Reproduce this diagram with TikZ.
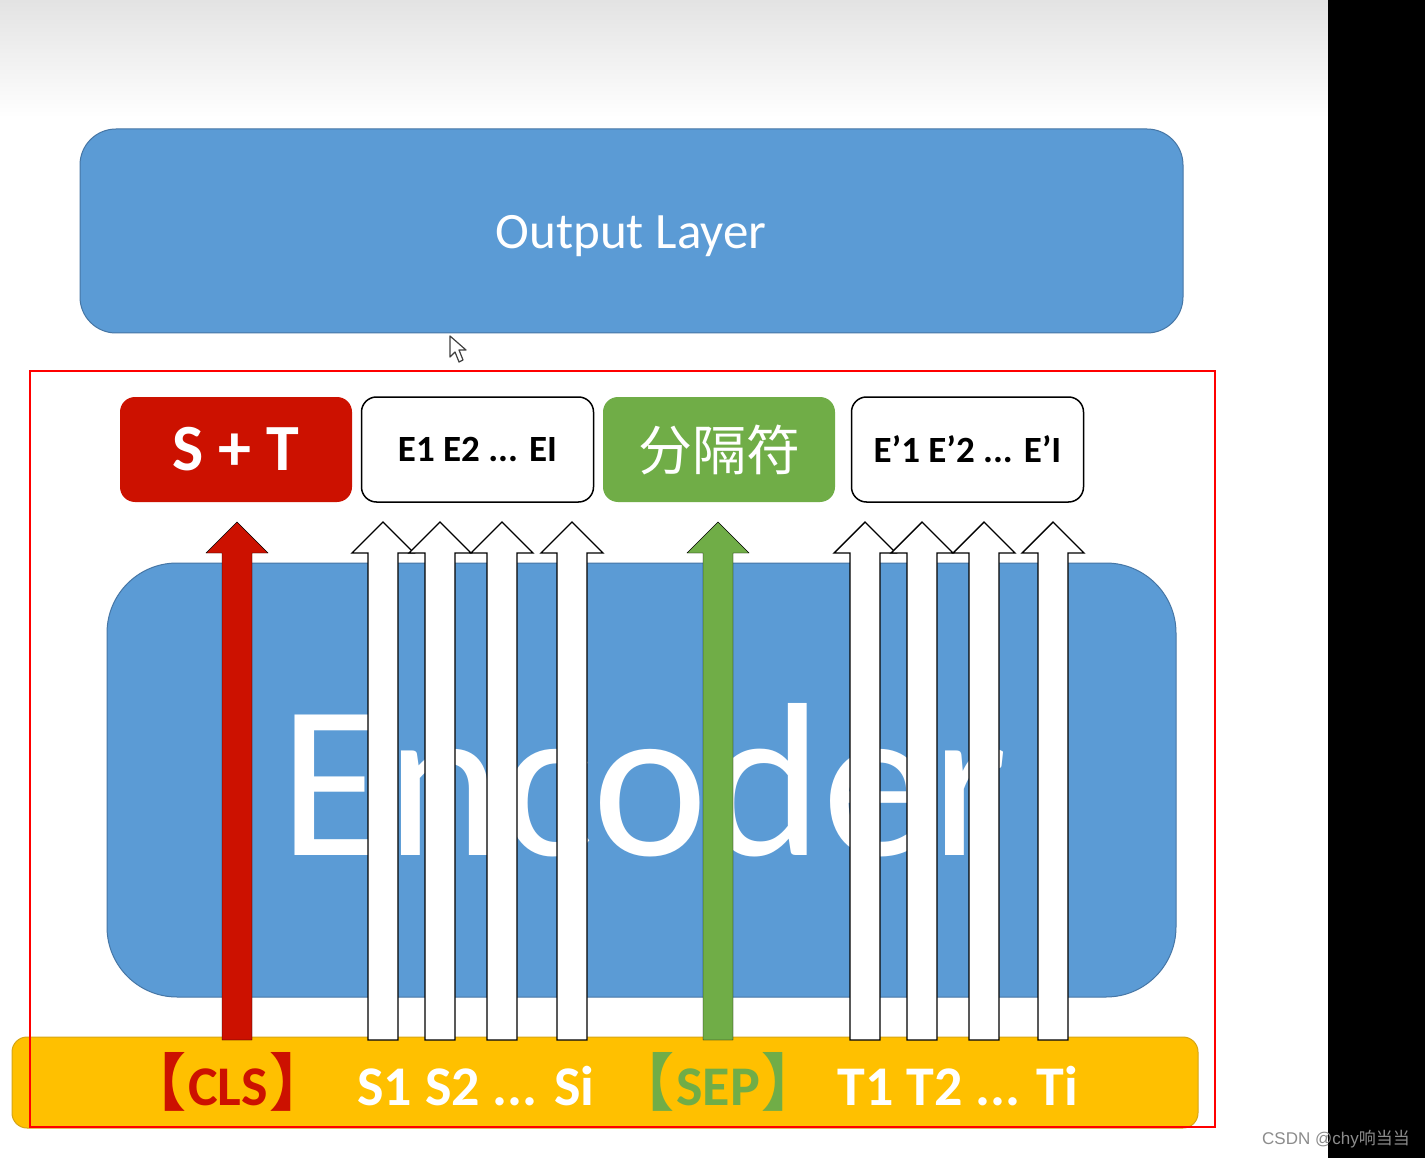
\documentclass[tikz,border=0pt]{standalone}
\usepackage{fontspec}
\setmainfont{Carlito}
\newfontfamily\cjk{Noto Sans CJK SC}
\newfontfamily\wmfont{Liberation Sans}
\usetikzlibrary{calc}
\definecolor{blu}{RGB}{91,155,213}
\definecolor{bluedge}{RGB}{70,118,165}
\definecolor{redf}{RGB}{204,17,0}
\definecolor{grn}{RGB}{112,173,71}
\definecolor{yel}{RGB}{255,192,0}
\definecolor{yeledge}{RGB}{214,165,20}
\definecolor{frame}{RGB}{255,0,0}
\newcommand\fsz[1]{\fontsize{#1pt}{#1pt}\selectfont}
\newcommand\blockarr[3]{\draw[#3] ($(#1)+(-15,0)$) -- ($(#2)+(-15,31)$) -- ($(#2)+(-31,31)$) -- (#2) -- ($(#2)+(31,31)$) -- ($(#2)+(15,31)$) -- ($(#1)+(15,0)$) -- cycle;}
\newcommand\lbr{{\cjk\fsz{62}【}}
\newcommand\rbr{{\cjk\fsz{62}】}}
\tikzset{
  layerbox/.style={draw=bluedge, line width=1pt, fill=blu, inner sep=0pt},
  tokbox/.style={minimum width=232pt, minimum height=105pt, rounded corners=15pt, inner sep=0pt},
  whitebox/.style={tokbox, draw=black, line width=1.5pt, fill=white, font=\bfseries\fsz{37}},
  whitearrow/.style={fill=white, draw=black, line width=1.4pt, line join=miter},
  redarrow/.style={fill=redf},
  greenarrow/.style={fill=grn},
  bartext/.style={font=\bfseries\fsz{56}, anchor=base, inner sep=0pt}
}
\begin{document}
\begin{tikzpicture}[x=1pt,y=-1pt]
\useasboundingbox (0,0) rectangle (1425,1158);
\fill[white] (0,0) rectangle (1425,1158);
\shade[top color=black!11, bottom color=white] (0,0) rectangle (1328,118);
\fill[black] (1328,0) rectangle (1425,1158);

% output layer
\node[layerbox, rounded corners=36pt, minimum width=1103pt, minimum height=204pt] (out) at (631.5,231) {};
\node[text=white, font=\fsz{51}, inner sep=0pt] (outlabel) at (631,236) {Output Layer};

% cursor
\draw[fill=white, draw=black!75, line width=1.2pt, line join=round]
  (450,336) -- (450,357) -- (455,352) -- (459,362) -- (463,360) -- (459,350) -- (466,350) -- cycle;

% encoder
\node[layerbox, rounded corners=70pt, minimum width=1069pt, minimum height=434pt] (enc) at (641.5,780) {};
\node[text=white, font=\fsz{219}, inner sep=0pt, anchor=base] (enclabel) at (644,855) {Encoder};

% output token boxes
\node[tokbox, fill=redf, text=white, font=\bfseries\fsz{66}] (st) at (236,449.5) {S + T};
\node[whitebox] (e) at (477.5,449.5) {E1 E2 ... EI};
\node[tokbox, fill=grn, text=white, font=\cjk\fsz{54}] (sepbox) at (719,449.5) {分隔符};
\node[whitebox] (ep) at (967.5,449.5) {E’1 E’2 ... E’I};

% input bar
\node[draw=yeledge, line width=1pt, fill=yel, rounded corners=15pt, minimum width=1186pt, minimum height=91pt, inner sep=0pt] (bar) at (605,1082.5) {};

% arrow end points
\foreach \n/\x in {c/237, a1/383, a2/440, a3/502, a4/572, g/718, b1/865, b2/922, b3/984, b4/1053}{
  \coordinate (\n-in) at (\x,1040);
  \coordinate (\n-out) at (\x,522);
}
\blockarr{c-in}{c-out}{redarrow}
\blockarr{a1-in}{a1-out}{whitearrow}
\blockarr{a2-in}{a2-out}{whitearrow}
\blockarr{a3-in}{a3-out}{whitearrow}
\blockarr{a4-in}{a4-out}{whitearrow}
\blockarr{g-in}{g-out}{greenarrow}
\blockarr{b1-in}{b1-out}{whitearrow}
\blockarr{b2-in}{b2-out}{whitearrow}
\blockarr{b3-in}{b3-out}{whitearrow}
\blockarr{b4-in}{b4-out}{whitearrow}

% input tokens
\node[bartext, text=redf] (cls) at (228,1105) {\lbr\hspace{2pt}CLS\hspace{2pt}\rbr};
\node[bartext, text=white] (stoks) at (476,1105) {S1 S2 ... Si};
\node[bartext, text=grn] (septok) at (718,1105) {\lbr\hspace{2pt}SEP\hspace{2pt}\rbr};
\node[bartext, text=white] (ttoks) at (958,1105) {T1 T2 ... Ti};

% highlight frame
\draw[frame, line width=2.8pt] (30,371) rectangle (1215,1127);

% watermark
\node[text=black!45, font=\wmfont\fsz{17}, anchor=base east, inner sep=0pt] (wm) at (1410,1144) {CSDN @chy{\cjk 响当当}};
\end{tikzpicture}
\end{document}
